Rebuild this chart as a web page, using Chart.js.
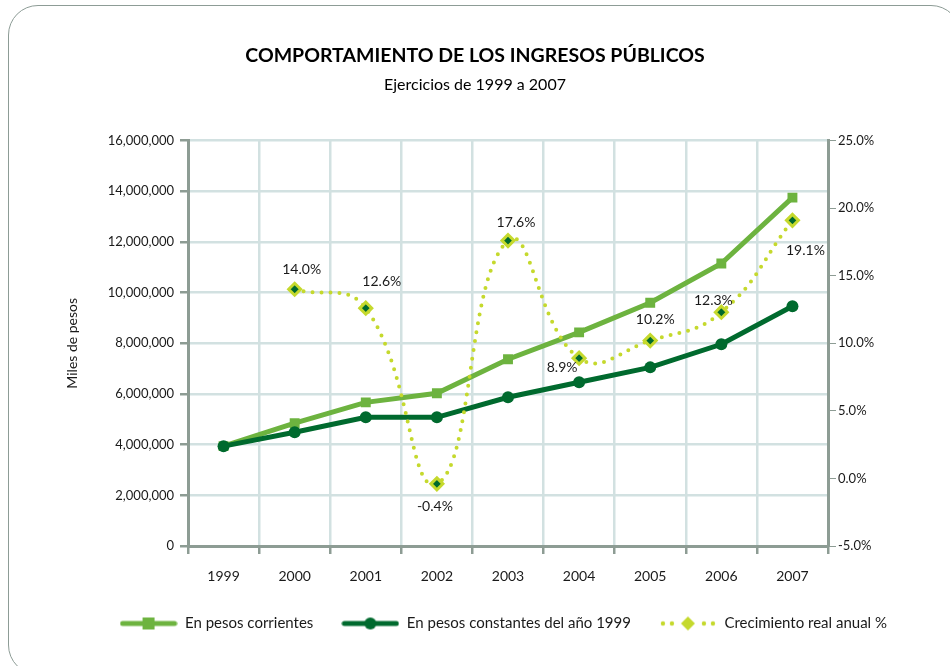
<!DOCTYPE html>
<html>
<head>
<meta charset="utf-8">
<script src="https://cdn.jsdelivr.net/npm/chart.js@4/dist/chart.umd.min.js"></script>
<style>
  html, body { margin: 0; padding: 0; background: #fff; }
  #frame {
    position: absolute; left: 8px; top: 5px; width: 953px; height: 670px;
    border: 1.5px solid #8d9c96; border-radius: 30px; box-sizing: border-box;
  }
  #wrap { position: absolute; left: 0; top: 0; width: 950px; height: 666px; }
</style>
</head>
<body>
<div id="frame"></div>
<div id="wrap"><canvas id="myChart"></canvas></div>
<script>
/*====== datos =======*/
const years = ['1999', '2000', '2001', '2002', '2003', '2004', '2005', '2006', '2007'];
const corrientes = [3940000, 4850000, 5670000, 6030000, 7370000, 8430000, 9600000, 11150000, 13750000];
const constantes = [3940000, 4490000, 5080000, 5080000, 5870000, 6460000, 7050000, 7960000, 9460000];
const crecimiento = [null, 14.0, 12.6, -0.4, 17.6, 8.9, 10.2, 12.3, 19.1];

const colCorr = '#6db33f';
const colCons = '#006a2e';
const colCrec = '#c5d92d';
const font = 'Lato, "Open Sans", sans-serif';

Chart.defaults.font.family = font;
Chart.defaults.color = '#1a1a1a';

/*====== legend icons =======*/
function legendIcon(kind) {
  const c = document.createElement('canvas');
  c.width = 58; c.height = 16;
  const ctx = c.getContext('2d');
  const y = 8;
  if (kind === 'corr') {
    ctx.strokeStyle = colCorr; ctx.lineWidth = 5; ctx.lineCap = 'round';
    ctx.beginPath(); ctx.moveTo(3, y); ctx.lineTo(55, y); ctx.stroke();
    ctx.fillStyle = colCorr; ctx.fillRect(23, y - 6, 12, 12);
  } else if (kind === 'cons') {
    ctx.strokeStyle = colCons; ctx.lineWidth = 5; ctx.lineCap = 'round';
    ctx.beginPath(); ctx.moveTo(3, y); ctx.lineTo(55, y); ctx.stroke();
    ctx.fillStyle = colCons; ctx.beginPath(); ctx.arc(29, y, 6, 0, Math.PI * 2); ctx.fill();
  } else {
    ctx.fillStyle = colCrec;
    [4, 13, 45, 54].forEach(x => { ctx.beginPath(); ctx.arc(x, y, 2.2, 0, Math.PI * 2); ctx.fill(); });
    ctx.beginPath(); ctx.moveTo(29, y - 7); ctx.lineTo(36, y); ctx.lineTo(29, y + 7); ctx.lineTo(22, y); ctx.closePath(); ctx.fill();
  }
  return c;
}
const icons = [legendIcon('corr'), legendIcon('cons'), legendIcon('crec')];

/*====== % labels =======*/
// nudge of each label away from its point [dx, dy]
const labelNudge = [null, [7, -20], [16, -27], [-2, 23], [8, -18], [-17, 9], [5, -21], [-8, -12], [13, 30]];

const pctLabels = {
  id: 'pctLabels',
  afterDatasetsDraw(chart) {
    const ctx = chart.ctx;
    const meta = chart.getDatasetMeta(2);
    ctx.save();
    ctx.font = '14px ' + font;
    ctx.fillStyle = '#1a1a1a';
    ctx.textAlign = 'center';
    ctx.textBaseline = 'middle';
    meta.data.forEach((pt, i) => {
      const v = crecimiento[i];
      if (v === null) return;
      const n = labelNudge[i];
      ctx.fillText(v.toFixed(1) + '%', pt.x + n[0], pt.y + n[1]);
    });
    ctx.restore();
  }
};

/*====== chart =======*/
const data = {
  labels: years,
  datasets: [{
    label: 'En pesos corrientes',
    data: corrientes,
    borderColor: colCorr,
    backgroundColor: colCorr,
    borderWidth: 5,
    pointStyle: 'rect',
    pointRadius: 7,
    pointBorderWidth: 0,
    yAxisID: 'y',
    order: 2
  }, {
    label: 'En pesos constantes del año 1999',
    data: constantes,
    borderColor: colCons,
    backgroundColor: colCons,
    borderWidth: 5,
    pointStyle: 'circle',
    pointRadius: 6,
    pointBorderWidth: 0,
    yAxisID: 'y',
    order: 1
  }, {
    label: 'Crecimiento real anual %',
    data: crecimiento,
    borderColor: colCrec,
    backgroundColor: colCons,
    borderWidth: 4,
    borderDash: [0, 9],
    borderCapStyle: 'round',
    tension: 0.45,
    pointStyle: 'rectRot',
    pointRadius: 6,
    pointBorderColor: colCrec,
    pointBorderWidth: 3,
    yAxisID: 'y1',
    order: 0
  }]
};

const config = {
  type: 'line',
  data: data,
  plugins: [pctLabels],
  options: {
    responsive: false,
    animation: false,
    layout: { padding: { left: 35, right: 35, top: 44, bottom: 25 } },
    plugins: {
      title: {
        display: true,
        text: 'COMPORTAMIENTO DE LOS INGRESOS PÚBLICOS',
        font: { size: 19.5, weight: 'bold' },
        color: '#000',
        padding: { top: 0, bottom: 8 }
      },
      subtitle: {
        display: true,
        text: 'Ejercicios de 1999 a 2007',
        font: { size: 16 },
        color: '#000',
        padding: { top: 0, bottom: 46 }
      },
      legend: {
        position: 'bottom',
        align: 'end',
        labels: {
          usePointStyle: true,
          pointStyleWidth: 58,
          boxHeight: 14,
          padding: 28,
          font: { size: 15 },
          color: '#1a1a1a',
          sort: (a, b) => a.datasetIndex - b.datasetIndex,
          generateLabels(chart) {
            const items = Chart.defaults.plugins.legend.labels.generateLabels(chart);
            items.forEach(it => { it.pointStyle = icons[it.datasetIndex]; });
            return items;
          }
        }
      },
      tooltip: { enabled: false }
    },
    scales: {
      x: {
        offset: true,
        grid: { offset: true, color: '#d2e1e1', lineWidth: 2.5, tickColor: '#8d9c94', tickLength: 8 },
        border: { color: '#8d9c94', width: 3 },
        ticks: { font: { size: 14 }, color: '#1a1a1a', padding: 14 },
        afterFit: s => { s.height = 42; }
      },
      y: {
        position: 'left',
        min: 0, max: 16000000,
        ticks: {
          stepSize: 2000000,
          font: { size: 13 }, color: '#1a1a1a', padding: 6,
          callback: v => v.toLocaleString('en-US')
        },
        grid: { color: '#d2e1e1', lineWidth: 2.5, tickColor: '#8d9c94', tickLength: 8 },
        border: { color: '#8d9c94', width: 3 },
        title: { display: true, text: 'Miles de pesos', font: { size: 14 }, color: '#1a1a1a', padding: { top: 29, bottom: 4 } },
        afterFit: s => { s.width = 153; }
      },
      y1: {
        position: 'right',
        min: -5, max: 25,
        ticks: {
          stepSize: 5,
          font: { size: 13 }, color: '#1a1a1a', padding: 2,
          callback: v => v.toFixed(1) + '%'
        },
        grid: { drawOnChartArea: false, tickColor: '#8d9c94', tickLength: 8 },
        border: { color: '#8d9c94', width: 3 },
        afterFit: s => { s.width = 87; }
      }
    }
  }
};

const canvas = document.getElementById('myChart');
canvas.width = 950;
canvas.height = 666;
const myChart = new Chart(canvas, config);
</script>
</body>
</html>
